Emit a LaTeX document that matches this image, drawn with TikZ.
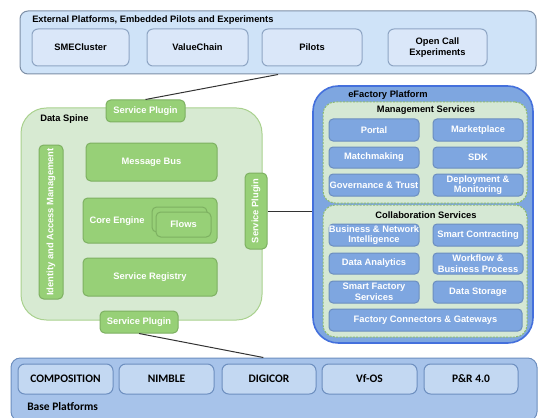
\documentclass[tikz,border=0pt]{standalone}
\usepackage{fontspec}
\setmainfont{Liberation Sans}
\newfontfamily\calibri{Carlito}
\usetikzlibrary{fit}

\definecolor{extfill}{HTML}{CFE3F8}
\definecolor{extline}{HTML}{7D8FA6}
\definecolor{extitem}{HTML}{DAE7F9}
\definecolor{extitemline}{HTML}{8EA5C4}
\definecolor{spinefill}{HTML}{D7EAD2}
\definecolor{spineline}{HTML}{A9D18E}
\definecolor{greenfill}{HTML}{97D077}
\definecolor{greenline}{HTML}{7DB061}
\definecolor{effill}{HTML}{7EA6E0}
\definecolor{efline}{HTML}{4470DC}
\definecolor{svcfill}{HTML}{D5E8D4}
\definecolor{svcline}{HTML}{8DBB72}
\definecolor{bluebox}{HTML}{7EA6E0}
\definecolor{blueboxline}{HTML}{6C8EBF}
\definecolor{basefill}{HTML}{A7C3EA}
\definecolor{baseline}{HTML}{6C8EBF}
\definecolor{baseitem}{HTML}{C3D8F2}

\tikzset{
  txt/.style={font=\bfseries\fontsize{7}{8}\selectfont, align=center, inner sep=0pt},
  basetxt/.style={font=\calibri\bfseries\fontsize{8.6}{10}\selectfont, inner sep=0pt},
  % captions go on top of the box, at its centre
  bcap/.style={label={[txt]center:#1}},
  wcap/.style={label={[txt, text=white]center:#1}},
  basecap/.style={label={[basetxt]center:#1}},
  boxline/.style={draw=#1, line width=0.75pt, inner sep=0pt},
  extpanel/.style={boxline=extline, fill=extfill, rounded corners=6pt},
  extbox/.style={boxline=extitemline, fill=extitem, rounded corners=4.5pt, bcap=#1},
  spine/.style={boxline=spineline, fill=spinefill, rounded corners=19pt},
  greenbox/.style={boxline=greenline, fill=greenfill, rounded corners=3.5pt, wcap=#1},
  greenbox/.default={},
  efpanel/.style={boxline=efline, fill=effill, line width=1.2pt, rounded corners=19pt},
  svcpanel/.style={boxline=svcline, fill=svcfill, dashed, dash pattern=on 1.5pt off 1pt, rounded corners=9pt},
  svcbox/.style={boxline=blueboxline, fill=bluebox, rounded corners=3pt, wcap=#1},
  basepanel/.style={boxline=baseline, fill=basefill, rounded corners=7pt},
  basebox/.style={boxline=baseline, fill=baseitem, rounded corners=5pt, basecap=#1},
  link/.style={draw=black!80, line width=0.75pt},
}

\begin{document}
\begin{tikzpicture}[x=0.75pt,y=0.75pt,yscale=-1,xscale=1]
\useasboundingbox (0,0) rectangle (538,417);

% external platforms
\node[extpanel, fit={(20,11) (536,74)}] (ext) {};
\node[txt, anchor=west] (exttitle) at (32,20) {External Platforms, Embedded Pilots and Experiments};
\node[extbox=SMECluster, fit={(32,29) (129,66)}] (sme) {};
\node[extbox=ValueChain, fit={(147,29) (248,66)}] (valuechain) {};
\node[extbox=Pilots, fit={(262,29) (362,66)}] (pilots) {};
\node[extbox={Open Call\\Experiments}, fit={(388,29) (487,66)}] (opencall) {};

% data spine
\node[spine, fit={(21,108) (262,320)}] (spine) {};
\node[txt, anchor=west] (spinetitle) at (40,119) {Data Spine};
\node[greenbox, fit={(39,145) (63,299)}] (iam) {};
\node[txt, text=white, rotate=90] (iamtext) at (iam.center) {Identity and Access Management};
\node[greenbox={Message Bus}, fit={(86,143) (217,181)}] (msgbus) {};
\node[greenbox, fit={(83,198) (217,243)}] (core) {};
\node[txt, text=white] (coretext) at (117,221) {Core Engine};
\node[greenbox, fit={(152,207) (207,232)}] (flowsback) {};
\node[greenbox=Flows, fit={(156,212) (211,237)}] (flows) {};
\node[greenbox={Service Registry}, fit={(83,258) (217,296)}] (registry) {};
\node[greenbox={Service Plugin}, fit={(106,100) (185,122)}] (plugtop) {};
\node[greenbox, fit={(245,173) (267,249)}] (plugright) {};
\node[txt, text=white, rotate=90] (plugrighttext) at (plugright.center) {Service Plugin};
\node[greenbox={Service Plugin}, fit={(100,311) (178,333)}] (plugbot) {};

% efactory platform
\node[efpanel, fit={(313,86) (533,343)}] (efactory) {};
\node[txt, anchor=west] (eftitle) at (348,95) {eFactory Platform};
\node[svcpanel, fit={(323,102) (527,203)}] (mgmt) {};
\node[txt] (mgmttitle) at (426,110) {Management Services};
\node[svcbox=Portal, fit={(329,119) (419,141)}] (portal) {};
\node[svcbox=Marketplace, fit={(433,119) (523,141)}] (market) {};
\node[svcbox=Matchmaking, fit={(329,147) (419,168)}] (match) {};
\node[svcbox=SDK, fit={(433,147) (523,168)}] (sdk) {};
\node[svcbox={Governance \& Trust}, fit={(329,174) (419,196)}] (gov) {};
\node[svcbox={Deployment \&\\Monitoring}, fit={(433,174) (523,196)}] (deploy) {};
\node[svcpanel, fit={(323,205) (527,337)}] (collab) {};
\node[txt] (collabtitle) at (426,215) {Collaboration Services};
\node[svcbox={Business \& Network\\Intelligence}, fit={(329,224) (419,246)}] (bni) {};
\node[svcbox={Smart Contracting}, fit={(433,224) (523,246)}] (contract) {};
\node[svcbox={Data Analytics}, fit={(329,253) (419,274)}] (analytics) {};
\node[svcbox={Workflow \&\\Business Process}, fit={(433,253) (523,274)}] (workflow) {};
\node[svcbox={Smart Factory\\Services}, fit={(329,281) (419,303)}] (smartfac) {};
\node[svcbox={Data Storage}, fit={(433,281) (523,303)}] (storage) {};
\node[svcbox={Factory Connectors \& Gateways}, fit={(329,309) (522,331)}] (connectors) {};

% base platforms
\node[basepanel, fit={(11,358) (537,421)}] (base) {};
\node[basebox=COMPOSITION, fit={(18,364) (113,394)}] (composition) {};
\node[basebox=NIMBLE, fit={(119,364) (214,394)}] (nimble) {};
\node[basebox=DIGICOR, fit={(222,364) (316,394)}] (digicor) {};
\node[basebox=Vf-OS, fit={(322,364) (417,394)}] (vfos) {};
\node[basebox={P\&R 4.0}, fit={(424,364) (518,394)}] (pr) {};
\node[basetxt, anchor=west] (basetitle) at (27,407) {Base Platforms};

% links
\draw[link] (plugtop.north) -- (ext.south);
\draw[link] (plugright.east) -- (plugright.east -| efactory.west);
\draw[link] (plugbot.south) -- ([xshift=-8pt]base.north);
\end{tikzpicture}
\end{document}
